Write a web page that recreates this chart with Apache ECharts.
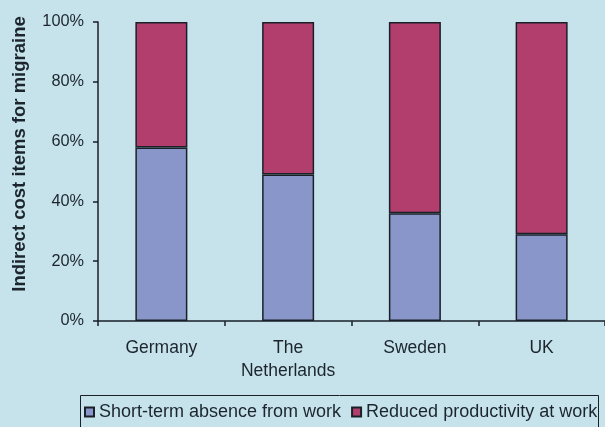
<!DOCTYPE html>
<html>
<head>
<meta charset="utf-8">
<script src="https://cdn.jsdelivr.net/npm/echarts@6/dist/echarts.min.js"></script>
<style>
  html, body { margin: 0; padding: 0; background: #c6e3ec; }
  #chart { width: 605px; height: 427px; }
</style>
</head>
<body>
<div id="chart"></div>
<script>
// Share of indirect migraine costs by country (percent)
const countries = ['Germany', 'The\nNetherlands', 'Sweden', 'UK'];
const absenceShare = [58, 49, 36, 29];       // Short-term absence from work
const productivityShare = [42, 51, 64, 71];  // Reduced productivity at work
const yTicks = [0, 20, 40, 60, 80, 100];

const textColor = '#1c252d';
const lineColor = '#1a2028';
const font = 'Arial, "Liberation Sans", sans-serif';

const chart = echarts.init(document.getElementById('chart'), null, { renderer: 'canvas' });

chart.setOption({
  backgroundColor: '#c6e3ec',
  animation: false,
  grid: { left: 98, top: 22, width: 512, height: 299 },
  xAxis: {
    type: 'category',
    data: countries,
    boundaryGap: true,
    axisLine: { lineStyle: { color: lineColor, width: 1.5 } },
    axisTick: { show: true, length: 5, lineStyle: { color: lineColor, width: 1.5 } },
    axisLabel: {
      color: textColor, fontSize: 17.5, fontFamily: font,
      margin: 16, lineHeight: 23
    }
  },
  yAxis: {
    type: 'value',
    min: yTicks[0],
    max: yTicks[yTicks.length - 1],
    interval: 20,
    axisLine: { show: true, lineStyle: { color: lineColor, width: 1.5 } },
    axisTick: { show: true, length: 5, lineStyle: { color: lineColor, width: 1.5 } },
    splitLine: { show: false },
    axisLabel: {
      color: textColor, fontSize: 16.3, fontFamily: font, margin: 14,
      formatter: v => v + '%'
    }
  },
  legend: {
    left: 80,
    top: 395,
    orient: 'horizontal',
    itemWidth: 9,
    itemHeight: 9,
    itemGap: 10,
    padding: [8, 4, 4, 4],
    borderWidth: 0,
    icon: 'rect',
    textStyle: { color: textColor, fontSize: 18, fontFamily: font },
    data: ['Short-term absence from work', 'Reduced productivity at work']
  },
  graphic: [
    {
      // legend frame, running past the bottom edge
      type: 'rect',
      shape: { x: 80.5, y: 395.5, width: 518, height: 50 },
      style: { fill: 'none', stroke: lineColor, lineWidth: 1 },
      silent: true
    },
    {
      type: 'text',
      x: 20,
      y: 154,
      rotation: Math.PI / 2,
      style: {
        text: 'Indirect cost items for migraine',
        fill: textColor,
        font: 'bold 18.5px Arial, "Liberation Sans", sans-serif',
        textAlign: 'center',
        textVerticalAlign: 'middle'
      }
    }
  ],
  series: [
    {
      name: 'Short-term absence from work',
      type: 'bar',
      stack: 'total',
      barWidth: 52,
      data: absenceShare,
      itemStyle: { color: '#8996c9', borderColor: lineColor, borderWidth: 1.5 }
    },
    {
      name: 'Reduced productivity at work',
      type: 'bar',
      stack: 'total',
      barWidth: 52,
      data: productivityShare,
      itemStyle: { color: '#b23e6d', borderColor: lineColor, borderWidth: 1.5 }
    }
  ]
});
</script>
</body>
</html>
